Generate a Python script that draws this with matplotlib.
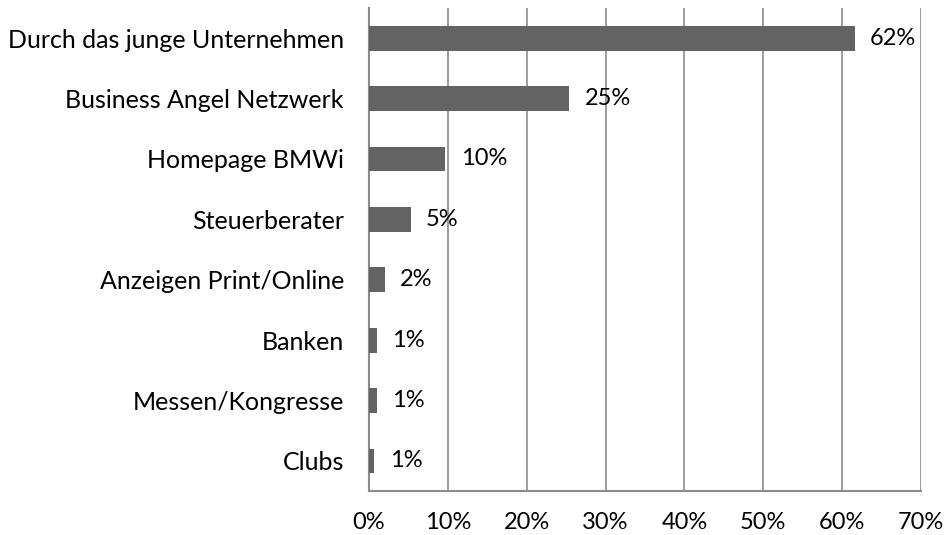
import matplotlib.pyplot as plt
from matplotlib.ticker import FuncFormatter

plt.rcParams['font.family'] = ['Lato', 'DejaVu Sans']

categories = ['Durch das junge Unternehmen', 'Business Angel Netzwerk', 'Homepage BMWi',
              'Steuerberater', 'Anzeigen Print/Online', 'Banken', 'Messen/Kongresse', 'Clubs']
values = [61.6, 25.4, 9.7, 5.3, 2.0, 1.0, 1.0, 0.7]
labels = ['62%', '25%', '10%', '5%', '2%', '1%', '1%', '1%']
xticks = [0, 10, 20, 30, 40, 50, 60, 70]

fig = plt.figure(figsize=(9.46, 5.35), dpi=100)
ax = fig.add_axes([0.390, 0.082, 0.5836, 0.903])

y = list(range(len(categories)))
ax.barh(y, values, height=0.41, color='#636363', zorder=3)
for yi, v, lab in zip(y, values, labels):
    ax.annotate(lab, (v, yi), xytext=(11, 0), textcoords='offset points',
                va='center', ha='left', fontsize=17, color='black', zorder=4)

ax.set_ylim(len(categories) - 0.5, -0.5)
ax.set_xlim(0, 70)
ax.set_xticks(xticks)
ax.xaxis.set_major_formatter(FuncFormatter(lambda v, p: f'{v:.0f}%'))
ax.set_yticks(y)
ax.set_yticklabels(categories)

ax.grid(axis='x', color='#8c8c8c', linewidth=1.2, zorder=0)
for s in ['top', 'right']:
    ax.spines[s].set_visible(False)
for s in ['left', 'bottom']:
    ax.spines[s].set_color('#8c8c8c')
    ax.spines[s].set_linewidth(1.5)
ax.tick_params(axis='both', length=0)
ax.tick_params(axis='x', pad=15, labelsize=17)
ax.tick_params(axis='y', pad=18, labelsize=18)

fig.savefig('out.png', dpi=100)
